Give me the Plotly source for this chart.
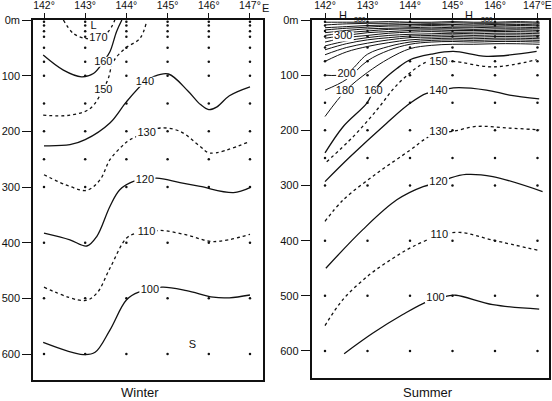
import plotly.graph_objects as go

# ---------------- data ----------------
lon_ticks = [142, 143, 144, 145, 146, 147]
lon_ticktext = ["142°", "143°", "144°", "145°", "146°", "147°"]
lon_ticktext_summer = ["142°", "143°", "144°", "145°", "146°", "147°E"]
depth_ticks = [0, 100, 200, 300, 400, 500, 600]
depth_ticktext = ["0m", "100", "200", "300", "400", "500", "600"]
station_lons = [142, 143, 144, 145, 146, 147]
station_depths = [3, 10, 20, 30, 50, 75, 100, 150, 200, 250, 300, 400, 500, 600]

# Winter isolines (lon, depth)
w170_lon = [142.47, 142.71, 143.0, 143.32, 143.56, 143.72]
w170_dep = [0, 24, 33, 32, 21, 0]
w160_lon = [141.98, 142.47, 142.91, 143.2, 143.44, 143.6, 143.76, 143.89]
w160_dep = [63, 90, 102, 96, 75, 57, 21, 0]
w150_lon = [141.98, 142.63, 143.12, 143.42, 143.56, 143.68, 143.97, 144.33, 144.49]
w150_dep = [171, 171, 159, 127, 105, 75, 51, 33, 3]
w140_lon = [142.0, 142.63, 143.0, 143.6, 144.0, 144.45, 144.65, 145.02, 145.5, 145.8, 146.0, 146.2, 146.5, 147.0]
w140_dep = [226, 224, 215, 185, 147, 111, 102, 97, 128, 152, 161, 156, 136, 120]
w130_lon = [142.0, 142.63, 143.04, 143.36, 143.6, 143.89, 144.09, 144.49, 144.82, 145.3, 145.79, 146.03, 147.0]
w130_dep = [278, 299, 306, 287, 251, 227, 215, 203, 194, 200, 227, 239, 218]
w120_lon = [142.0, 142.63, 143.04, 143.28, 143.6, 143.84, 144.17, 144.45, 144.74, 145.3, 145.79, 146.6, 147.0]
w120_dep = [383, 395, 406, 389, 335, 305, 290, 287, 284, 292, 299, 310, 301]
w110_lon = [142.0, 142.99, 143.28, 143.6, 144.0, 144.25, 144.49, 144.82, 145.46, 146.11, 147.0]
w110_dep = [480, 504, 491, 446, 392, 383, 382, 378, 386, 398, 385]
w100_lon = [141.98, 142.95, 143.24, 143.6, 144.0, 144.3, 144.57, 144.86, 145.46, 146.11, 146.5, 147.0]
w100_dep = [579, 601, 597, 557, 503, 489, 486, 480, 486, 498, 499, 494]

# Summer isolines
s100_lon = [142.45, 143.12, 143.83, 144.42, 144.85, 145.08, 145.95, 147.04]
s100_dep = [605, 568, 534, 510, 501, 499, 516, 524]
s110_lon = [142.0, 142.42, 143.04, 143.6, 144.06, 144.69, 145.16, 145.95, 147.04]
s110_dep = [554, 507, 462, 432, 411, 391, 385, 399, 418]
s120_lon = [142.02, 142.89, 143.69, 144.31, 144.67, 144.93, 145.32, 145.95, 147.12]
s120_dep = [450, 380, 326, 302, 295, 287, 280, 284, 311]
s130_lon = [142.0, 142.43, 143.22, 144.0, 144.39, 144.67, 145.0, 145.55, 146.34, 147.04]
s130_dep = [365, 326, 278, 236, 214, 204, 202, 193, 196, 199]
s140_lon = [142.0, 142.59, 143.45, 144.0, 144.39, 144.67, 145.02, 145.8, 146.34, 147.04]
s140_dep = [293, 248, 187, 151, 133, 130, 123, 127, 136, 143]
s150_lon = [142.04, 142.67, 143.22, 143.69, 144.24, 144.47, 144.67, 145.0, 145.96, 146.98]
s150_dep = [257, 211, 163, 118, 82, 75, 77, 75, 85, 72]
s160_lon = [142.0, 142.43, 142.98, 143.14, 143.33, 143.69, 144.0, 144.5, 145.02, 145.8, 146.98]
s160_dep = [241, 193, 151, 130, 112, 88, 72, 62, 57, 66, 57]

# Summer upper-layer (thermocline) isolines, sampled at these longitudes
fan_lon = [142.0, 142.5, 143.0, 143.5, 144.0, 144.5, 145.0, 145.5, 146.0, 146.5, 147.05]
fan_01 = [4, 4, 4, 3, 4, 4, 3, 4, 4, 3, 4]
fan_02 = [9, 7, 6, 6, 5, 6, 5, 6, 6, 5, 6]
fan_03 = [14, 12, 10, 9, 8, 8, 8, 9, 8, 8, 9]
fan_04 = [18, 15, 13, 11, 11, 10, 11, 11, 11, 10, 11]
fan_05 = [23, 19, 16, 15, 14, 13, 14, 14, 13, 13, 14]
fan_06 = [28, 23, 20, 17, 16, 16, 16, 17, 16, 16, 16]
fan_07 = [33, 28, 23, 21, 19, 18, 19, 19, 19, 18, 19]
fan_08 = [40, 32, 28, 24, 22, 21, 22, 22, 21, 21, 22]
fan_09 = [47, 38, 32, 28, 26, 25, 24, 25, 24, 24, 25]
fan_10 = [54, 43, 36, 32, 29, 28, 27, 28, 27, 27, 28]
fan_11 = [63, 50, 42, 36, 32, 31, 30, 31, 30, 30, 31]
fan_12 = [75, 58, 48, 41, 36, 34, 33, 34, 33, 33, 34]
fan_13 = [100, 97, 62, 48, 40, 37, 36, 37, 36, 36, 37]
fan_14 = [127, 108, 74, 55, 44, 40, 39, 40, 39, 39, 40]
fan_15 = [175, 127, 95, 70, 52, 46, 44, 44, 43, 43, 44]

# isoline labels
w_label_text = ["170", "160", "150", "140", "130", "120", "110", "100"]
w_label_lon = [143.32, 143.44, 143.44, 144.45, 144.49, 144.45, 144.49, 144.57]
w_label_dep = [32, 75, 127, 111, 203, 287, 382, 486]
s_label_text = ["300", "200", "180", "160", "150", "140", "130", "120", "110", "100"]
s_label_lon = [142.43, 142.51, 142.47, 143.14, 144.67, 144.67, 144.67, 144.67, 144.69, 144.6]
s_label_dep = [30, 98, 130, 130, 77, 130, 204, 295, 391, 505]

# ---------------- figure ----------------
FONT = "Liberation Sans"
INK = "#111111"
fig = go.Figure()

def add_line(xs, ys, dotted, axis, width=1.3):
    fig.add_trace(go.Scatter(
        x=xs, y=ys, mode="lines", xaxis="x" + axis, yaxis="y" + axis,
        line=dict(color=INK, width=width, dash="dot" if dotted else "solid",
                  shape="spline", smoothing=1.0),
        hoverinfo="skip", showlegend=False))

for axis in ["", "2"]:
    sx = [lo for lo in station_lons for d in station_depths]
    sy = [d for lo in station_lons for d in station_depths]
    fig.add_trace(go.Scatter(x=sx, y=sy, mode="markers", xaxis="x" + axis, yaxis="y" + axis,
                             marker=dict(size=2.5, color=INK), hoverinfo="skip", showlegend=False))

winter = [(w170_lon, w170_dep, True), (w160_lon, w160_dep, False), (w150_lon, w150_dep, True),
          (w140_lon, w140_dep, False), (w130_lon, w130_dep, True), (w120_lon, w120_dep, False),
          (w110_lon, w110_dep, True), (w100_lon, w100_dep, False)]
for xs, ys, dot in winter:
    add_line(xs, ys, dot, "")

summer = [(s100_lon, s100_dep, False), (s110_lon, s110_dep, True), (s120_lon, s120_dep, False),
          (s130_lon, s130_dep, True), (s140_lon, s140_dep, False), (s150_lon, s150_dep, True),
          (s160_lon, s160_dep, False)]
for xs, ys, dot in summer:
    add_line(xs, ys, dot, "2")

for fan in [fan_01, fan_02, fan_03, fan_04, fan_05, fan_06, fan_07, fan_08,
            fan_09, fan_10, fan_11, fan_12, fan_13, fan_14, fan_15]:
    add_line(fan_lon, fan, False, "2", width=1.0)

# white gaps behind the isoline labels, then the labels as text marks
for axis, texts, lons, deps, deg_px in [("", w_label_text, w_label_lon, w_label_dep, 41.2),
                                        ("2", s_label_text, s_label_lon, s_label_dep, 42.5)]:
    half = 10.5 / deg_px
    for lo, de in zip(lons, deps):
        fig.add_trace(go.Scatter(x=[lo - half, lo + half], y=[de, de], mode="lines",
                                 xaxis="x" + axis, yaxis="y" + axis,
                                 line=dict(color="white", width=10),
                                 hoverinfo="skip", showlegend=False))
    fig.add_trace(go.Scatter(x=lons, y=deps, text=texts, mode="text", textposition="middle center",
                             xaxis="x" + axis, yaxis="y" + axis,
                             textfont=dict(family=FONT, size=11, color=INK),
                             hoverinfo="skip", showlegend=False, cliponaxis=False))

fig.add_trace(go.Scatter(x=[143.2, 145.6], y=[12, 584], text=["L", "S"], mode="text",
                         xaxis="x", yaxis="y", textfont=dict(family=FONT, size=11, color=INK),
                         hoverinfo="skip", showlegend=False))

def txt(text, x, y, size=11):
    return dict(text=text, x=x, y=y, xref="paper", yref="paper", showarrow=False,
                xanchor="center", yanchor="middle",
                font=dict(family=FONT, size=size, color=INK))

annotations = [
    txt("H", 343 / 552, 1 - 15 / 401),
    txt("380", 360 / 552, 1 - 19 / 401, size=7),
    txt("H", 469 / 552, 1 - 15 / 401),
    txt("380", 487 / 552, 1 - 19 / 401, size=7),
    txt("E", 265.5 / 552, 1 - 8 / 401),
    txt("Winter", 140 / 552, 1 - 392 / 401, size=13),
    txt("Summer", 428 / 552, 1 - 392 / 401, size=13),
]

W, H = 552, 401
xcommon = dict(side="top", tickmode="array", tickvals=lon_ticks,
               ticks="outside", ticklen=5, tickwidth=1.2, tickcolor=INK,
               showline=True, mirror=True, linecolor=INK, linewidth=1.6,
               showgrid=False, zeroline=False, automargin=False,
               tickfont=dict(family=FONT, size=10.5, color=INK))
ycommon = dict(tickmode="array", tickvals=depth_ticks, ticktext=depth_ticktext,
               ticks="outside", ticklen=9, tickwidth=1.2, tickcolor=INK,
               showline=True, mirror=True, linecolor=INK, linewidth=1.6,
               showgrid=False, zeroline=False, automargin=False,
               tickfont=dict(family=FONT, size=11, color=INK))

fig.update_layout(
    template="none", width=W, height=H, margin=dict(l=0, r=0, t=0, b=0),
    paper_bgcolor="white", plot_bgcolor="white", showlegend=False,
    xaxis=dict(xcommon, ticktext=lon_ticktext, domain=[33 / W, 263 / W],
               range=[141.733, 147.316], anchor="y"),
    yaxis=dict(ycommon, domain=[1 - 380 / H, 1 - 20 / H], range=[646.7, 0], anchor="x"),
    xaxis2=dict(xcommon, ticktext=lon_ticktext_summer, domain=[311.5 / W, 548.7 / W],
                range=[141.682, 147.264], anchor="y2"),
    yaxis2=dict(ycommon, domain=[1 - 378 / H, 1 - 20 / H], range=[649, 0], anchor="x2"),
    annotations=annotations,
)

fig.write_html("out.html")
